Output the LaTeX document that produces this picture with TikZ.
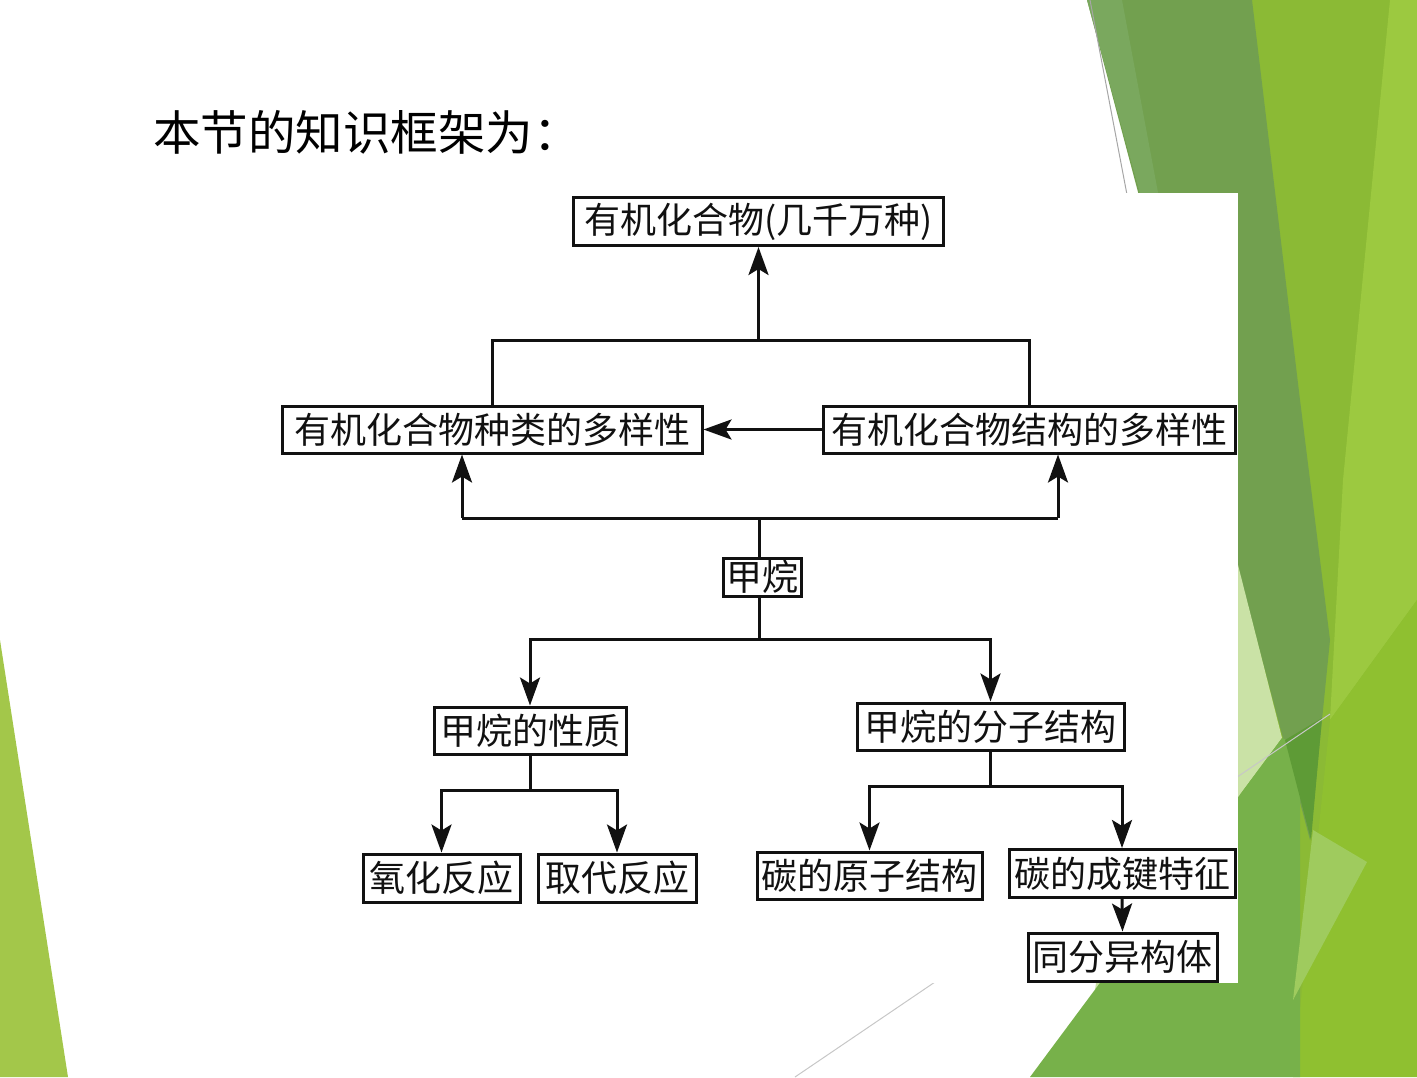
\documentclass[tikz,border=0pt]{standalone}
\usepackage{fontspec}
\newfontfamily\cjk{Noto Sans CJK SC}
\usetikzlibrary{arrows.meta}
\definecolor{leftgreen}{HTML}{A3C74A}
\definecolor{darkband}{HTML}{72A04F}
\definecolor{stripgreen}{HTML}{7AA85E}
\definecolor{basegreen}{HTML}{8BBA35}
\definecolor{brightgreen}{HTML}{9CC940}
\definecolor{yellowgreen}{HTML}{8FC030}
\definecolor{palegreen}{HTML}{CAE2A6}
\definecolor{bottomgreen}{HTML}{77B14A}
\definecolor{lightband}{HTML}{9FCB5E}
\definecolor{darkspot}{HTML}{5E9B36}
\definecolor{inkc}{HTML}{111111}
\tikzset{
  box/.style={draw=inkc, line width=3pt, fill=white, inner sep=0pt,
    font=\cjk\fontsize{36}{40}\selectfont, text=inkc},
  conn/.style={draw=inkc, line width=3pt},
  arr/.style={conn, -{Stealth[length=28pt,width=20pt,inset=6pt]}},
}
\begin{document}
\begin{tikzpicture}[x=1pt,y=-1pt]
\useasboundingbox (0,0) rectangle (1417,1077);
\begin{scope}
\clip (0,0) rectangle (1417,1077);
% background facets
\fill[basegreen] (1240,0) -- (1417,0) -- (1417,1077) -- (1240,1077) -- cycle;
\fill[brightgreen] (1390,0) -- (1417,0) -- (1417,600) -- (1330,720) -- (1343,480) -- cycle;
\fill[yellowgreen] (1417,600) -- (1417,1077) -- (1293,1077) -- (1330,720) -- cycle;
\fill[darkband] (1087,0) -- (1252,0) -- (1300,400) -- (1330,640) -- (1310,840) -- cycle;
\fill[stripgreen] (1087,0) -- (1122,0) -- (1165,230) -- (1150,230) -- cycle;
\fill[palegreen] (1150,600) -- (1238,565) -- (1282,738) -- (1095,990) -- cycle;
\fill[bottomgreen] (1030,1077) -- (1282,738) -- (1300,745) -- (1300,1077) -- cycle;
\fill[lightband] (1313,830) -- (1367,862) -- (1293,1000) -- cycle;
\fill[darkspot] (1285,740) -- (1322,718) -- (1311,840) -- cycle;
\draw[color=black!35, line width=1pt] (1090,0) -- (1128,200);
\draw[color=black!22, line width=1pt] (795,1077) -- (1330,714);
\fill[leftgreen] (0,640) -- (68,1077) -- (0,1077) -- cycle;
% white diagram panel
\fill[white] (250,193) rectangle (1238,983);
\end{scope}

% title
\node[anchor=west, font=\cjk\fontsize{47.5}{54}\selectfont, inner sep=0pt] (title) at (153,132) {本节的知识框架为：};

% boxes
\node[box, minimum width=370pt, minimum height=48pt] (n1) at (758.5,221.5) {有机化合物(几千万种)};
\node[box, minimum width=420pt, minimum height=47pt] (n2) at (492,429.5) {有机化合物种类的多样性};
\node[box, minimum width=412pt, minimum height=47pt] (n3) at (1029,429.5) {有机化合物结构的多样性};
\node[box, minimum width=78pt, minimum height=38pt] (n4) at (762,577) {甲烷};
\node[box, minimum width=192pt, minimum height=47pt] (n5) at (530,730.5) {甲烷的性质};
\node[box, minimum width=157pt, minimum height=48pt] (n6) at (441.5,878) {氧化反应};
\node[box, minimum width=158pt, minimum height=48pt] (n7) at (617,878) {取代反应};
\node[box, minimum width=267pt, minimum height=47pt] (n8) at (990.5,726.5) {甲烷的分子结构};
\node[box, minimum width=225pt, minimum height=47pt] (n9) at (869.5,875.5) {碳的原子结构};
\node[box, minimum width=226pt, minimum height=48pt] (n10) at (1122,873.5) {碳的成键特征};
\node[box, minimum width=189pt, minimum height=48pt] (n11) at (1122.5,957) {同分异构体};

% junctions
\coordinate (j1) at (758.5,340);
\coordinate (j2) at (759,518);
\coordinate (l2) at (462,518);
\coordinate (r2) at (1058,518);
\coordinate (j3) at (759,639);
\coordinate (j4) at (530,790);
\coordinate (j5) at (990.5,786);

% connectors
\draw[conn] (n2.north) |- (j1);
\draw[conn] (n3.north) |- (j1);
\draw[arr] (j1) -- (n1.south);
\draw[arr] (n3.west) -- (n2.east);
\draw[conn] (l2) -- (r2);
\draw[arr] (l2) -- (l2 |- n2.south);
\draw[arr] (r2) -- (r2 |- n3.south);
\draw[conn] (j2 |- n4.north) -- (j2);
\draw[conn] (j3 |- n4.south) -- (j3);
\draw[arr] (j3) -| (n5.north);
\draw[arr] (j3) -| (n8.north);
\draw[conn] (n5.south) -- (j4);
\draw[arr] (j4) -| (n6.north);
\draw[arr] (j4) -| (n7.north);
\draw[conn] (n8.south) -- (j5);
\draw[arr] (j5) -| (n9.north);
\draw[arr] (j5) -| (n10.north);
\draw[arr] (n10.south) -- (n11.north);
\end{tikzpicture}
\end{document}
